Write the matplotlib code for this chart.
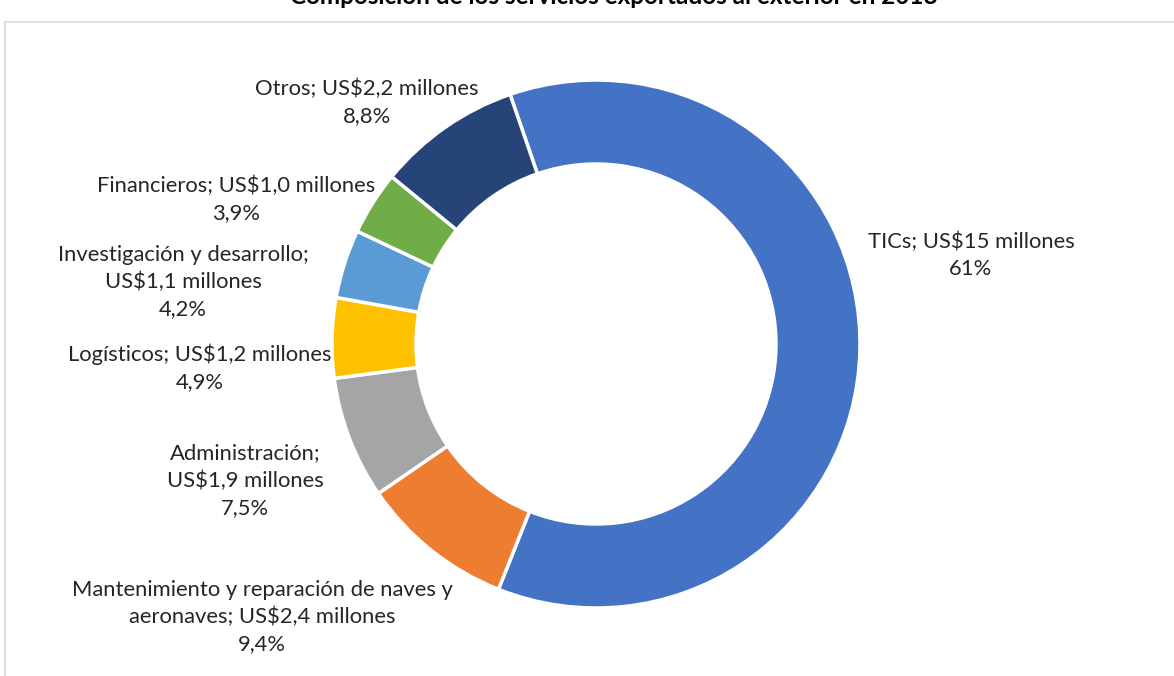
import matplotlib
matplotlib.use("Agg")
import matplotlib.pyplot as plt
from matplotlib.patches import Rectangle

categories = ["TICs", "Mantenimiento y reparación de naves y\naeronaves", "Administración;\n",
              "Logísticos", "Investigación y desarrollo;\n", "Financieros", "Otros"]
values_musd = ["15", "2,4", "1,9", "1,2", "1,1", "1,0", "2,2"]
shares = [61.3, 9.4, 7.5, 4.9, 4.2, 3.9, 8.8]
share_labels = ["61%", "9,4%", "7,5%", "4,9%", "4,2%", "3,9%", "8,8%"]
colors = ["#4472C4", "#ED7D31", "#A5A5A5", "#FFC000", "#5B9BD5", "#70AD47", "#264478"]
title = "Composición de los servicios exportados al exterior en 2018"

W, H = 1174, 676
fig = plt.figure(figsize=(W / 100, H / 100), dpi=100)
ax = fig.add_axes([0, 0, 1, 1])
ax.set_xlim(0, W)
ax.set_ylim(0, H)
ax.set_aspect("equal")
ax.axis("off")

def py(y):
    return H - y

# chart border
ax.add_patch(Rectangle((5, -10), W - 5 + 10, py(22) + 10, fill=False,
                       edgecolor="#D9D9D9", linewidth=1.2))

ax.pie(shares, colors=colors, startangle=109, counterclock=False,
       center=(596, py(344)), radius=264,
       wedgeprops=dict(width=84, edgecolor="white", linewidth=2.5))
ax.set_xlim(0, W)
ax.set_ylim(0, H)

font = "Lato"
fs = 15.8

def lab(i):
    c = categories[i]
    if c.endswith("\n"):
        return f"{c}US${values_musd[i]} millones\n{share_labels[i]}"
    return f"{c}; US${values_musd[i]} millones\n{share_labels[i]}"

# label anchor positions (pixel centers of label blocks)
pos = [(971, 255), (262, 617), (245, 481), (200, 368), (183, 282), (236, 199), (367, 102)]
for i, (x, y) in enumerate(pos):
    ax.text(x, py(y), lab(i), ha="center", va="center", fontsize=fs,
            family=font, color="#262626", linespacing=1.45)

ax.text(614, py(4), title, ha="center", va="baseline", fontsize=17.5,
        fontweight="bold", family=font, color="#000000")

fig.savefig("out.png", dpi=100)
